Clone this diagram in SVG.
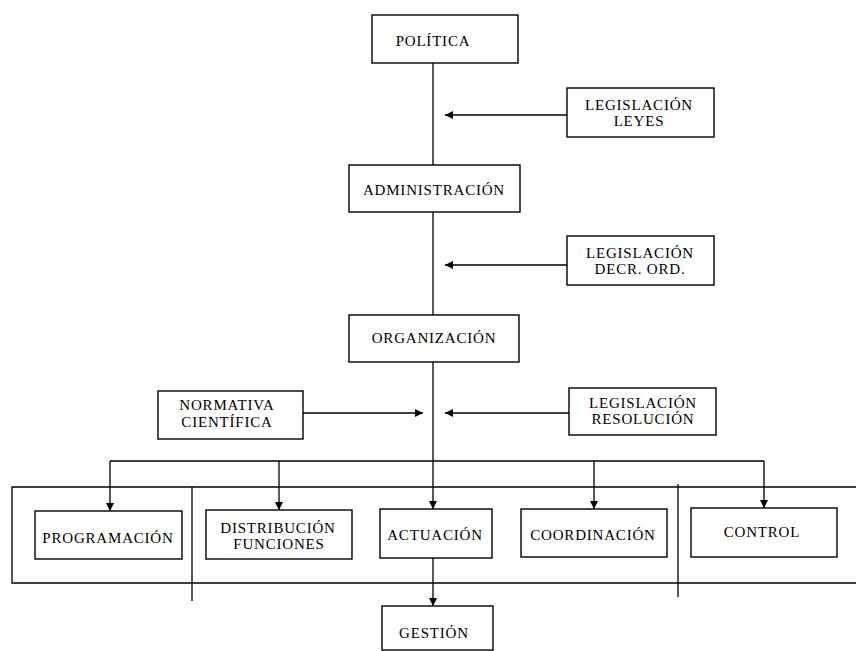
<svg xmlns="http://www.w3.org/2000/svg" width="856" height="651" viewBox="0 0 856 651">
<defs>
<marker id="ah" viewBox="0 0 10 10" refX="10" refY="5" markerWidth="10" markerHeight="8" markerUnits="userSpaceOnUse" orient="auto">
<path d="M0,0 L10,5 L0,10 z" fill="#000"/>
</marker>
<style>
.b{fill:#fff;stroke:#000;stroke-width:1.4}
.t{font-family:"Liberation Serif","Times New Roman",serif;font-size:15px;fill:#000;text-anchor:middle;letter-spacing:0.8px}
.l{fill:none;stroke:#000;stroke-width:1.3}
.a{fill:none;stroke:#000;stroke-width:1.3;marker-end:url(#ah)}
</style>
</defs>
<rect width="856" height="651" fill="#fff"/>
<g id="connectors">
<line class="l" x1="433" y1="63" x2="433" y2="165"/>
<line class="l" x1="433" y1="212" x2="433" y2="315"/>
<line class="a" x1="433" y1="362" x2="433" y2="509"/>
<line class="a" x1="567" y1="115" x2="445" y2="115"/>
<line class="a" x1="567" y1="265" x2="445" y2="265"/>
<line class="a" x1="569" y1="413" x2="445" y2="413"/>
<line class="a" x1="303" y1="413" x2="423" y2="413"/>
<polyline class="l" points="110,461 764,461"/>
<line class="a" x1="110" y1="461" x2="110" y2="511"/>
<line class="a" x1="279" y1="461" x2="279" y2="510"/>
<line class="a" x1="594" y1="461" x2="594" y2="509"/>
<line class="a" x1="764" y1="461" x2="764" y2="508"/>
<line class="a" x1="433" y1="558" x2="433" y2="606"/>
<polyline class="l" points="856,487 12,487 12,583 856,583"/>
<line class="l" x1="192" y1="487" x2="192" y2="601"/>
<line class="l" x1="678" y1="484" x2="678" y2="597"/>
</g>
<g id="politica"><rect class="b" x="372" y="15" width="146" height="48"/><text class="t" x="433" y="46">POLÍTICA</text></g>
<g id="leyes"><rect class="b" x="567" y="88" width="147" height="49"/><text class="t" x="639" y="110">LEGISLACIÓN</text><text class="t" x="639" y="126">LEYES</text></g>
<g id="administracion"><rect class="b" x="349" y="165" width="171" height="47"/><text class="t" x="434" y="195">ADMINISTRACIÓN</text></g>
<g id="decr"><rect class="b" x="567" y="236" width="147" height="49"/><text class="t" x="640" y="258">LEGISLACIÓN</text><text class="t" x="640" y="274">DECR. ORD.</text></g>
<g id="organizacion"><rect class="b" x="349" y="315" width="170" height="47"/><text class="t" x="434" y="343">ORGANIZACIÓN</text></g>
<g id="normativa"><rect class="b" x="158" y="391" width="145" height="48"/><text class="t" x="227" y="410">NORMATIVA</text><text class="t" x="227" y="427">CIENTÍFICA</text></g>
<g id="resolucion"><rect class="b" x="569" y="388" width="147" height="47"/><text class="t" x="643" y="408">LEGISLACIÓN</text><text class="t" x="643" y="424">RESOLUCIÓN</text></g>
<g id="programacion"><rect class="b" x="35" y="511" width="147" height="48"/><text class="t" x="108" y="543">PROGRAMACIÓN</text></g>
<g id="distribucion"><rect class="b" x="206" y="510" width="146" height="49"/><text class="t" x="278" y="533">DISTRIBUCIÓN</text><text class="t" x="279" y="549">FUNCIONES</text></g>
<g id="actuacion"><rect class="b" x="380" y="509" width="112" height="49"/><text class="t" x="435" y="540">ACTUACIÓN</text></g>
<g id="coordinacion"><rect class="b" x="521" y="509" width="146" height="48"/><text class="t" x="593" y="540">COORDINACIÓN</text></g>
<g id="control"><rect class="b" x="691" y="508" width="146" height="49"/><text class="t" x="762" y="537">CONTROL</text></g>
<g id="gestion"><rect class="b" x="382" y="606" width="111" height="44"/><text class="t" x="434" y="638">GESTIÓN</text></g>
</svg>
